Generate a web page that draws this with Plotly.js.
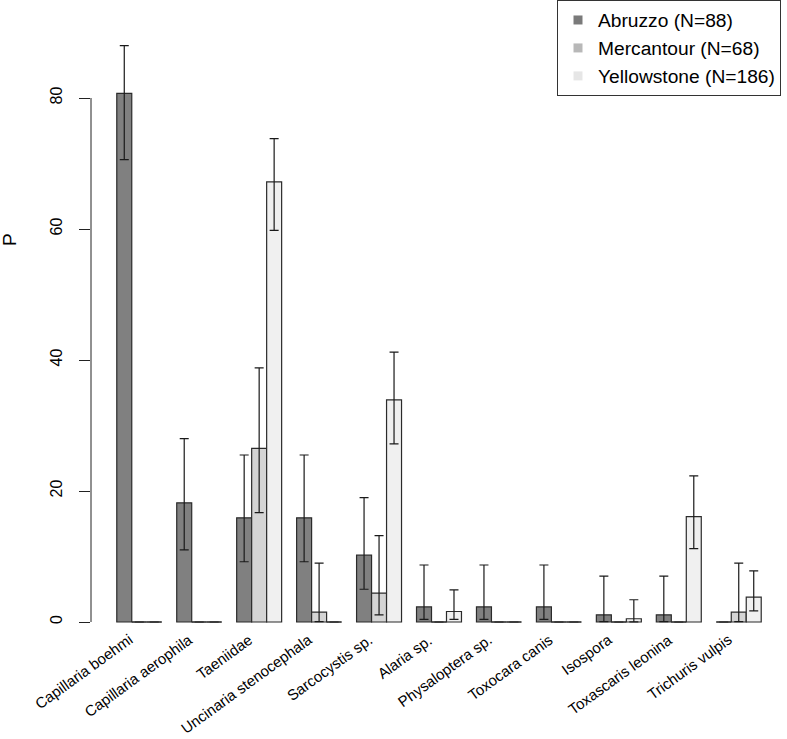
<!DOCTYPE html>
<html>
<head>
<meta charset="utf-8">
<script src="https://cdn.plot.ly/plotly-3.0.1.min.js"></script>
<style>html,body{margin:0;padding:0;background:#fff;}#chart{width:787px;height:739px;}</style>
</head>
<body>
<div id="chart"></div>
<script>
const categories = ["Capillaria boehmi", "Capillaria aerophila", "Taeniidae", "Uncinaria stenocephala",
  "Sarcocystis sp.", "Alaria sp.", "Physaloptera sp.", "Toxocara canis", "Isospora",
  "Toxascaris leonina", "Trichuris vulpis"];
const seriesNames = ["Abruzzo (N=88)", "Mercantour (N=68)", "Yellowstone (N=186)"];

const abruzzo      = [80.7, 18.2, 15.9, 15.9, 10.2, 2.3, 2.3, 2.3, 1.1, 1.1, 0];
const abruzzoLow   = [70.6, 11.0,  9.2,  9.2,  5.0, 0.4, 0.4, 0.4, 0.05, 0.05, 0];
const abruzzoHigh  = [88.0, 28.0, 25.5, 25.5, 19.0, 8.7, 8.7, 8.7, 7.0, 7.0, 0];

const mercantour     = [0, 0, 26.5, 1.5, 4.4, 0, 0, 0, 0, 0, 1.5];
const mercantourLow  = [0, 0, 16.7, 0.05, 1.1, 0, 0, 0, 0, 0, 0.05];
const mercantourHigh = [0, 0, 38.8, 9.0, 13.2, 0, 0, 0, 0, 0, 9.0];

const yellowstone     = [0, 0, 67.2, 0, 33.9, 1.6, 0, 0, 0.5, 16.1, 3.8];
const yellowstoneLow  = [0, 0, 59.8, 0, 27.2, 0.4, 0, 0, 0.02, 11.2, 1.7];
const yellowstoneHigh = [0, 0, 73.8, 0, 41.2, 4.9, 0, 0, 3.4, 22.3, 7.8];

const yTicks = [0, 20, 40, 60, 80];

const barColors = ["#808080", "#d4d4d4", "#f0f0f0"];
const legendColors = ["#7a7a7a", "#b8b8b8", "#e6e6e6"];
const FONT = "Liberation Sans, Arial, Helvetica, sans-serif";

const series = [
  {v: abruzzo, lo: abruzzoLow, hi: abruzzoHigh},
  {v: mercantour, lo: mercantourLow, hi: mercantourHigh},
  {v: yellowstone, lo: yellowstoneLow, hi: yellowstoneHigh}
];

// R barplot(beside=TRUE) layout: group i, bar j spans [1+4i+j, 2+4i+j]
const traces = [];
series.forEach((s, j) => {
  const xs = categories.map((c, i) => 1.5 + 4 * i + j);
  traces.push({
    type: "bar", x: xs, y: s.v, width: 1,
    marker: {color: barColors[j], line: {color: "#2b2b2b", width: 1.2}},
    error_y: {
      type: "data", symmetric: false,
      array: s.v.map((v, i) => v === 0 ? null : s.hi[i] - v),
      arrayminus: s.v.map((v, i) => v === 0 ? null : v - s.lo[i]),
      color: "#1a1a1a", thickness: 1.2, width: 4.5
    },
    showlegend: false, hoverinfo: "skip"
  });
  // zero-height bars drawn as flat lines
  const zx = [], zy = [];
  s.v.forEach((v, i) => {
    if (v === 0) { zx.push(1 + 4 * i + j, 2 + 4 * i + j, null); zy.push(0, 0, null); }
  });
  traces.push({type: "scatter", mode: "lines", x: zx, y: zy,
    line: {color: "#2b2b2b", width: 1.2}, showlegend: false, hoverinfo: "skip"});
});
seriesNames.forEach((n, j) => {
  traces.push({type: "scatter", mode: "markers", x: [null], y: [null], name: n,
    marker: {symbol: "square", size: 9, color: legendColors[j]}, showlegend: true});
});

const W = 787, H = 739, L = 91, B = 100;
const plotH = H - B;
const pxPerUnit = 524 / 80;
const yMax = 622 / pxPerUnit;
const yMin = yMax - plotH / pxPerUnit;

const annotations = categories.map((c, i) => ({
  text: c, x: 2.5 + 4 * i, y: 0, xref: "x", yref: "y",
  xanchor: "right", yanchor: "top", textangle: -36, showarrow: false,
  xshift: -1, yshift: -6, font: {family: FONT, size: 15, color: "#000"}
}));
annotations.push({
  text: "P", xref: "paper", yref: "paper",
  x: (9 - L) / (W - L), y: 1 - 240 / plotH, xanchor: "center", yanchor: "middle",
  textangle: -90, showarrow: false, font: {family: FONT, size: 19, color: "#000"}
});

const layout = {
  width: W, height: H,
  margin: {l: L, r: 0, t: 0, b: B, pad: 0, autoexpand: false},
  paper_bgcolor: "#fff", plot_bgcolor: "#fff",
  font: {family: FONT, color: "#000"},
  barmode: "overlay",
  xaxis: {range: [-0.72, 45.72], showline: false, showgrid: false, zeroline: false,
    showticklabels: false, ticks: ""},
  yaxis: {range: [yMin, yMax], tickvals: yTicks, ticktext: yTicks.map(String),
    ticks: "outside", ticklen: 11, tickwidth: 1, tickcolor: "#222",
    tickangle: -90, tickfont: {family: FONT, size: 16, color: "#000"},
    ticklabelstandoff: 11,
    showline: false, showgrid: false, zeroline: false},
  shapes: [{type: "line", xref: "paper", yref: "y", x0: 0, x1: 0,
    y0: yTicks[0], y1: yTicks[yTicks.length - 1], line: {color: "#222", width: 1}}],
  legend: {x: (557 - L) / (W - L), xanchor: "left", y: 1, yanchor: "top", bgcolor: "#fff",
    bordercolor: "#333", borderwidth: 1, font: {family: FONT, size: 19.2, color: "#000"},
    tracegroupgap: 0},
  annotations: annotations
};

Plotly.newPlot("chart", traces, layout, {displayModeBar: false, staticPlot: true});
</script>
</body>
</html>
